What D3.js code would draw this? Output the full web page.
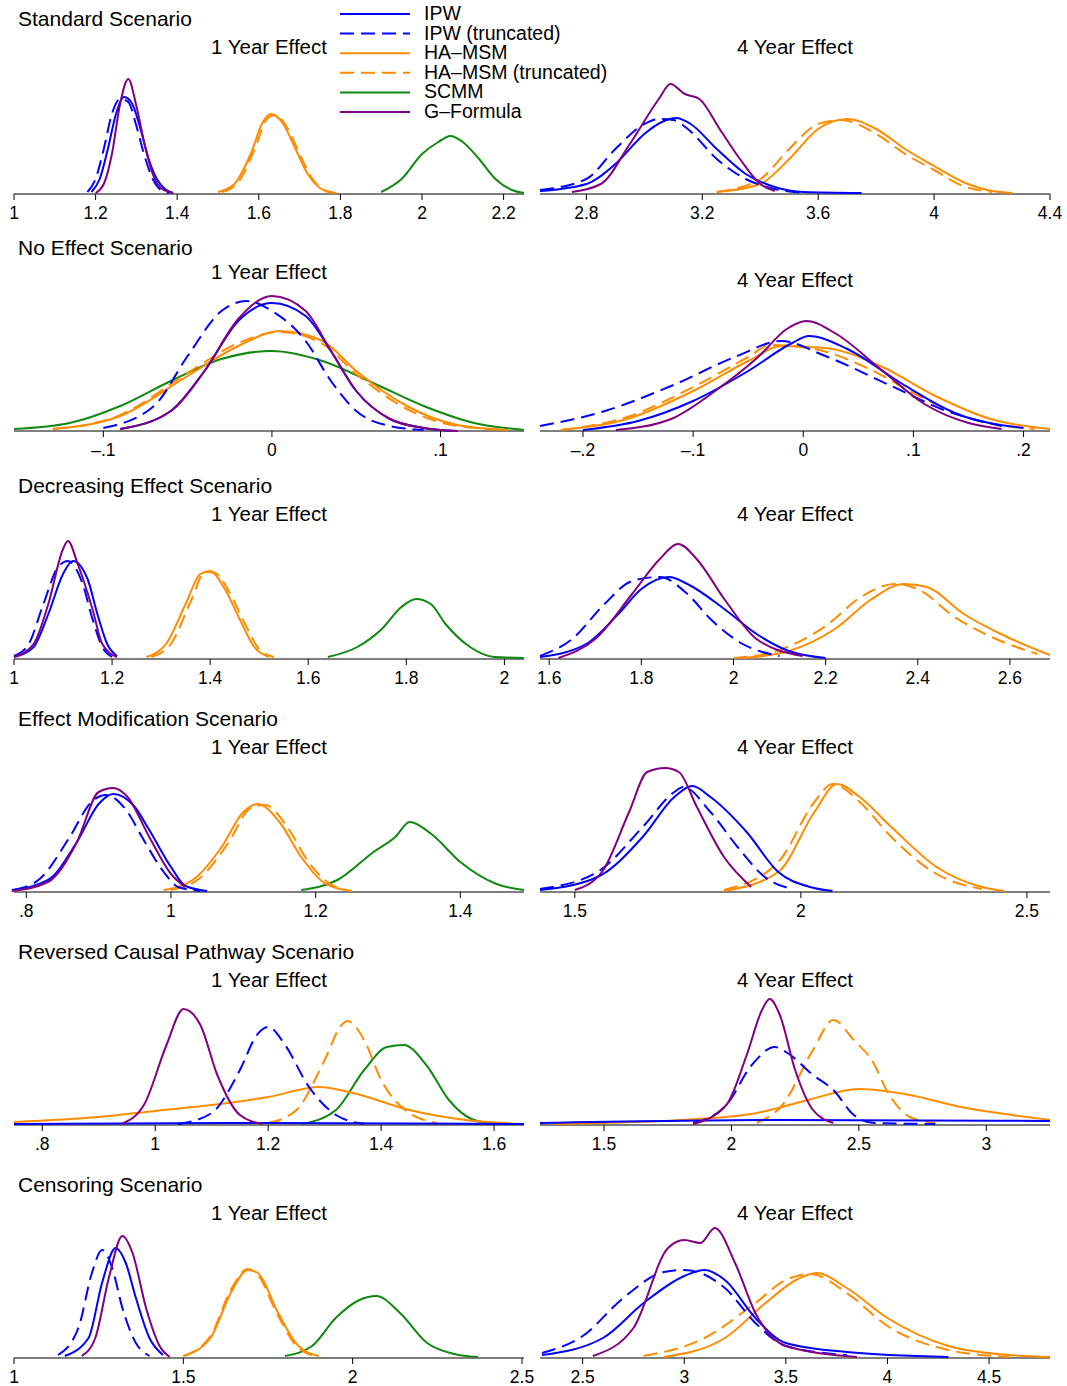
<!DOCTYPE html>
<html><head><meta charset="utf-8">
<script src="https://cdn.jsdelivr.net/npm/d3@7"></script>
<style>body{margin:0;background:#fff}text{font-family:"Liberation Sans",Arial,sans-serif;fill:#000}</style>
</head><body><svg id="c" width="1067" height="1386"></svg>
<script>
// series: [name, colour, dashed]
const series = [
  ["IPW", "#0000ff", false],
  ["IPW (truncated)", "#0000ff", true],
  ["HA\u2013MSM", "#ff8c00", false],
  ["HA\u2013MSM (truncated)", "#ff8c00", true],
  ["SCMM", "#118811", false],
  ["G\u2013Formula", "#800080", false]
];
const scenarios = ["Standard Scenario", "No Effect Scenario", "Decreasing Effect Scenario",
  "Effect Modification Scenario", "Reversed Causal Pathway Scenario", "Censoring Scenario"];

// x domains and ticks [value, label] per panel (row-major: 1 year, 4 year)
const domains = [[1, 2.25], [2.64, 4.4], [-0.153, 0.1495], [-0.239, 0.224], [1, 2.04], [1.58, 2.687],
  [0.783, 1.488], [1.423, 2.551], [0.75, 1.653], [1.249, 3.25], [1, 2.506], [2.29, 4.8]];
const ticks = [
  [[1,"1"],[1.2,"1.2"],[1.4,"1.4"],[1.6,"1.6"],[1.8,"1.8"],[2,"2"],[2.2,"2.2"]],
  [[2.8,"2.8"],[3.2,"3.2"],[3.6,"3.6"],[4,"4"],[4.4,"4.4"]],
  [[-0.1,"\u2013.1"],[0,"0"],[0.1,".1"]],
  [[-0.2,"\u2013.2"],[-0.1,"\u2013.1"],[0,"0"],[0.1,".1"],[0.2,".2"]],
  [[1,"1"],[1.2,"1.2"],[1.4,"1.4"],[1.6,"1.6"],[1.8,"1.8"],[2,"2"]],
  [[1.6,"1.6"],[1.8,"1.8"],[2,"2"],[2.2,"2.2"],[2.4,"2.4"],[2.6,"2.6"]],
  [[0.8,".8"],[1,"1"],[1.2,"1.2"],[1.4,"1.4"]],
  [[1.5,"1.5"],[2,"2"],[2.5,"2.5"]],
  [[0.8,".8"],[1,"1"],[1.2,"1.2"],[1.4,"1.4"],[1.6,"1.6"]],
  [[1.5,"1.5"],[2,"2"],[2.5,"2.5"],[3,"3"]],
  [[1,"1"],[1.5,"1.5"],[2,"2"],[2.5,"2.5"]],
  [[2.5,"2.5"],[3,"3"],[3.5,"3.5"],[4,"4"],[4.5,"4.5"]]
];

// curves per panel: series index -> [[x, height], ...] (height in px-like density units)
const p1 = {0:[[1.19,2],[1.21,15],[1.23,45],[1.25,80],[1.27,97],[1.29,90],[1.31,65],[1.33,35],[1.35,15],[1.37,5],[1.39,1]],
  1:[[1.18,2],[1.2,15],[1.22,45],[1.24,80],[1.26,95],[1.28,92],[1.3,68],[1.32,38],[1.34,15],[1.36,4],[1.38,1]],
  2:[[1.5,2],[1.54,10],[1.58,40],[1.61,72],[1.63,80],[1.66,70],[1.69,45],[1.72,20],[1.75,6],[1.78,1]],
  3:[[1.51,2],[1.55,12],[1.59,45],[1.62,75],[1.64,79],[1.67,66],[1.7,40],[1.73,16],[1.76,4],[1.79,1]],
  4:[[1.9,2],[1.95,15],[2,40],[2.04,52],[2.07,58],[2.1,52],[2.14,35],[2.18,15],[2.22,4],[2.25,1]],
  5:[[1.2,1],[1.22,10],[1.24,40],[1.26,90],[1.28,115],[1.3,88],[1.32,50],[1.34,20],[1.36,6],[1.39,1]]};
const p2 = {0:[[2.64,3],[2.8,10],[2.9,30],[3,60],[3.06,72],[3.11,76],[3.16,70],[3.25,45],[3.35,20],[3.45,7],[3.55,2],[3.75,1]],
  1:[[2.64,4],[2.8,15],[2.9,45],[3,70],[3.05,75],[3.1,74],[3.15,65],[3.25,35],[3.35,15],[3.45,5],[3.55,1]],
  2:[[3.25,2],[3.4,10],[3.5,35],[3.6,65],[3.7,75],[3.8,65],[3.9,45],[4,28],[4.1,12],[4.2,3],[4.27,1]],
  3:[[3.25,2],[3.4,15],[3.5,45],[3.6,70],[3.68,74],[3.8,60],[3.9,40],[4,24],[4.1,8],[4.2,2]],
  5:[[2.75,2],[2.85,10],[2.95,50],[3.05,95],[3.09,110],[3.14,100],[3.19,95],[3.26,65],[3.33,35],[3.4,10],[3.45,3]]};
const p3 = {0:[[-0.09,2],[-0.06,20],[-0.04,60],[-0.02,110],[0,128],[0.02,115],[0.035,80],[0.05,40],[0.07,12],[0.09,3],[0.11,0]],
  1:[[-0.1,3],[-0.07,25],[-0.05,75],[-0.03,120],[-0.015,130],[0,120],[0.02,90],[0.035,50],[0.05,20],[0.07,5],[0.09,1]],
  2:[[-0.13,2],[-0.09,15],[-0.05,55],[-0.02,85],[0.005,100],[0.03,90],[0.05,60],[0.08,25],[0.11,6],[0.14,1]],
  3:[[-0.13,2],[-0.09,16],[-0.05,58],[-0.02,88],[0.005,99],[0.03,87],[0.05,57],[0.08,22],[0.11,5],[0.14,1]],
  4:[[-0.153,2],[-0.12,8],[-0.09,25],[-0.06,50],[-0.03,72],[0,80],[0.03,70],[0.06,48],[0.09,25],[0.12,8],[0.1495,1]],
  5:[[-0.09,2],[-0.06,20],[-0.04,60],[-0.02,112],[0,135],[0.02,120],[0.035,80],[0.05,40],[0.07,12],[0.09,3],[0.11,0]]};
const p4 = {0:[[-0.2,1],[-0.15,10],[-0.1,30],[-0.05,60],[-0.01,88],[0.005,95],[0.04,82],[0.09,47],[0.14,17],[0.2,3]],
  1:[[-0.239,5],[-0.18,20],[-0.12,45],[-0.06,75],[-0.02,90],[0.02,75],[0.08,45],[0.13,20],[0.18,5]],
  2:[[-0.22,1],[-0.16,12],[-0.1,40],[-0.05,70],[-0.02,85],[0.02,83],[0.07,65],[0.12,35],[0.17,12],[0.224,2]],
  3:[[-0.22,1],[-0.16,14],[-0.1,44],[-0.05,74],[-0.03,86],[0.01,82],[0.06,62],[0.11,32],[0.16,10],[0.21,2]],
  5:[[-0.17,1],[-0.12,12],[-0.08,40],[-0.04,75],[-0.015,102],[0.003,110],[0.03,97],[0.07,62],[0.11,27],[0.15,8],[0.18,2]]};
const p5 = {0:[[1,2],[1.04,12],[1.07,45],[1.1,85],[1.12,98],[1.15,80],[1.17,45],[1.19,15],[1.21,3]],
  1:[[1,3],[1.03,15],[1.06,55],[1.09,92],[1.11,98],[1.14,75],[1.16,40],[1.18,12],[1.2,2]],
  2:[[1.27,2],[1.31,15],[1.35,55],[1.38,85],[1.4,88],[1.43,70],[1.46,40],[1.49,12],[1.52,2]],
  3:[[1.28,2],[1.32,15],[1.36,57],[1.39,87],[1.41,86],[1.44,66],[1.47,36],[1.5,10],[1.53,2]],
  4:[[1.64,2],[1.7,12],[1.75,30],[1.79,52],[1.82,60],[1.85,55],[1.88,35],[1.93,12],[1.98,2],[2.04,1]],
  5:[[1,2],[1.04,15],[1.07,55],[1.1,110],[1.11,118],[1.13,95],[1.16,50],[1.18,15],[1.21,2]]};
const p6 = {0:[[1.58,2],[1.68,15],[1.75,45],[1.8,70],[1.86,82],[1.9,75],[1.98,50],[2.05,25],[2.12,8],[2.2,1]],
  1:[[1.58,3],[1.65,20],[1.72,55],[1.78,78],[1.84,82],[1.9,65],[1.95,40],[2.02,15],[2.1,3]],
  2:[[2.02,1],[2.12,8],[2.22,30],[2.3,60],[2.37,75],[2.42,72],[2.5,45],[2.58,25],[2.687,4]],
  3:[[2.0,1],[2.1,9],[2.2,33],[2.28,63],[2.35,75],[2.4,70],[2.48,42],[2.56,22],[2.66,5]],
  5:[[1.62,1],[1.7,20],[1.78,65],[1.84,100],[1.88,115],[1.92,100],[1.98,60],[2.05,20],[2.15,3]]};
const p7 = {0:[[0.78,2],[0.83,12],[0.87,50],[0.9,88],[0.92,98],[0.95,85],[0.97,62],[1,25],[1.02,6],[1.05,1]],
  1:[[0.783,2],[0.82,14],[0.86,55],[0.89,90],[0.91,97],[0.94,80],[0.96,55],[0.99,20],[1.01,5],[1.04,1]],
  2:[[0.99,2],[1.03,12],[1.07,45],[1.1,80],[1.12,88],[1.15,70],[1.18,35],[1.21,10],[1.24,2]],
  3:[[1,2],[1.04,14],[1.08,50],[1.11,84],[1.13,87],[1.16,66],[1.19,30],[1.22,8],[1.25,1]],
  4:[[1.18,2],[1.23,12],[1.28,40],[1.31,55],[1.33,70],[1.36,58],[1.4,30],[1.45,8],[1.488,2]],
  5:[[0.78,1],[0.83,10],[0.87,50],[0.9,100],[0.92,104],[0.94,95],[0.97,55],[1,18],[1.02,5]]};
const p8 = {0:[[1.423,2],[1.55,15],[1.65,55],[1.72,95],[1.76,106],[1.8,95],[1.88,60],[1.95,20],[2.02,5],[2.07,1]],
  1:[[1.423,3],[1.55,20],[1.65,65],[1.72,100],[1.74,105],[1.8,80],[1.86,45],[1.92,15],[1.98,3]],
  2:[[1.83,1],[1.95,20],[2.03,80],[2.08,108],[2.13,95],[2.2,65],[2.3,25],[2.4,5],[2.45,1]],
  3:[[1.83,2],[1.95,30],[2.03,90],[2.07,108],[2.13,90],[2.2,55],[2.3,18],[2.4,3]],
  5:[[1.5,2],[1.56,20],[1.62,80],[1.66,120],[1.7,124],[1.73,120],[1.77,85],[1.83,35],[1.89,5]]};
const p9 = {0:[[0.75,1],[1.2,2],[1.653,1]],
  1:[[1.04,1],[1.1,12],[1.15,55],[1.18,90],[1.2,98],[1.23,80],[1.27,40],[1.32,10],[1.37,1]],
  2:[[0.75,3],[0.9,8],[1,14],[1.1,20],[1.2,28],[1.29,38],[1.35,32],[1.45,15],[1.55,5],[1.653,1]],
  3:[[1.2,2],[1.25,15],[1.3,65],[1.33,100],[1.34,104],[1.37,85],[1.4,45],[1.45,12],[1.5,2]],
  4:[[1.26,1],[1.32,15],[1.37,55],[1.41,78],[1.44,80],[1.48,60],[1.52,25],[1.56,6],[1.6,1]],
  5:[[0.94,1],[0.98,20],[1.02,80],[1.05,116],[1.08,100],[1.11,50],[1.15,10],[1.19,1]]};
const p10 = {0:[[1.249,2],[2.2,5],[3.25,4]],
  1:[[1.85,2],[1.98,20],[2.08,60],[2.17,78],[2.22,72],[2.32,50],[2.4,35],[2.48,10],[2.56,2],[2.8,1]],
  2:[[1.3,1],[1.8,5],[2.1,12],[2.3,25],[2.5,36],[2.7,30],[2.9,18],[3.1,10],[3.25,5]],
  3:[[2.1,2],[2.2,20],[2.32,75],[2.4,105],[2.48,85],[2.55,65],[2.62,30],[2.7,8],[2.8,2]],
  5:[[1.85,1],[1.98,20],[2.06,70],[2.12,115],[2.15,126],[2.19,110],[2.25,55],[2.32,15],[2.4,2]]};
const p11 = {0:[[1.15,2],[1.22,20],[1.26,75],[1.3,110],[1.33,95],[1.36,60],[1.4,20],[1.44,3]],
  1:[[1.13,3],[1.19,30],[1.23,85],[1.26,108],[1.29,90],[1.32,50],[1.36,15],[1.4,2]],
  2:[[1.5,2],[1.58,20],[1.64,65],[1.69,88],[1.72,85],[1.78,45],[1.84,12],[1.9,2]],
  3:[[1.5,2],[1.58,22],[1.64,68],[1.69,89],[1.72,83],[1.78,42],[1.84,10],[1.9,1]],
  4:[[1.8,2],[1.88,12],[1.95,40],[2.02,58],[2.07,62],[2.14,45],[2.22,15],[2.3,4],[2.37,1]],
  5:[[1.2,2],[1.24,20],[1.28,80],[1.32,122],[1.35,105],[1.39,50],[1.43,12],[1.46,1]]};
const p12 = {0:[[2.3,3],[2.6,20],[2.8,55],[3,82],[3.1,88],[3.2,78],[3.35,40],[3.5,15],[3.8,6],[4.3,1]],
  1:[[2.3,5],[2.5,22],[2.7,60],[2.9,86],[3,88],[3.2,70],[3.35,35],[3.5,12],[3.8,3]],
  2:[[2.9,1],[3.2,20],[3.4,55],[3.55,78],[3.65,85],[3.8,70],[4,40],[4.3,12],[4.6,3],[4.8,1]],
  3:[[2.8,2],[3.1,20],[3.35,55],[3.5,78],[3.62,84],[3.8,65],[4,32],[4.3,8],[4.6,1]],
  5:[[2.55,2],[2.75,30],[2.92,110],[3,118],[3.08,115],[3.15,130],[3.25,95],[3.35,45],[3.5,12],[3.85,1]]};
const curves = [p1, p2, p3, p4, p5, p6, p7, p8, p9, p10, p11, p12];

const svg = d3.select("#c");
const axisY = [194, 431, 659, 892, 1125, 1358];
const titleY = [26, 255, 493, 726, 959, 1192];
const subY = [[54, 62], [279, 287], [521, 521], [754, 754], [987, 987], [1220, 1220]];
const panelX = [[14, 524], [540, 1050]];
const drawOrder = [4, 2, 3, 0, 1, 5];

scenarios.forEach((s, r) => {
  svg.append("text").attr("x", 18).attr("y", titleY[r]).attr("font-size", 21).text(s);
  ["1 Year Effect", "4 Year Effect"].forEach((t, c) => {
    svg.append("text").attr("x", c ? 795 : 269).attr("y", r === 0 ? 54 : subY[r][c])
      .attr("text-anchor", "middle").attr("font-size", 20.5).text(t);
    const i = r * 2 + c;
    const x = d3.scaleLinear().domain(domains[i]).range(panelX[c]);
    const y = d3.scaleLinear().domain([0, 120]).range([axisY[r], axisY[r] - 120]);
    const g = svg.append("g");
    g.append("line").attr("x1", panelX[c][0]).attr("x2", panelX[c][1])
      .attr("y1", axisY[r]).attr("y2", axisY[r]).attr("stroke", "#000").attr("stroke-width", 1.2);
    ticks[i].forEach(([v, lab]) => {
      g.append("line").attr("x1", x(v)).attr("x2", x(v)).attr("y1", axisY[r]).attr("y2", axisY[r] + 6)
        .attr("stroke", "#000");
      g.append("text").attr("x", x(v)).attr("y", axisY[r] + 25).attr("text-anchor", "middle")
        .attr("font-size", 17.5).text(lab);
    });
    const line = d3.line().x(d => x(d[0])).y(d => y(d[1])).curve(d3.curveMonotoneX);
    drawOrder.forEach(k => {
      const pts = curves[i][k];
      if (!pts) return;
      g.append("path").attr("d", line(pts)).attr("fill", "none").attr("stroke", series[k][1])
        .attr("stroke-width", 2).attr("stroke-dasharray", series[k][2] ? "14,7" : null);
    });
  });
});

// legend
series.forEach(([name, col, dash], k) => {
  const yy = 14 + k * 19.6;
  svg.append("line").attr("x1", 340).attr("x2", 410).attr("y1", yy).attr("y2", yy)
    .attr("stroke", col).attr("stroke-width", 2).attr("stroke-dasharray", dash ? "14,7" : null);
  svg.append("text").attr("x", 424).attr("y", yy + 6).attr("font-size", 19.5).text(name);
});
</script></body></html>
